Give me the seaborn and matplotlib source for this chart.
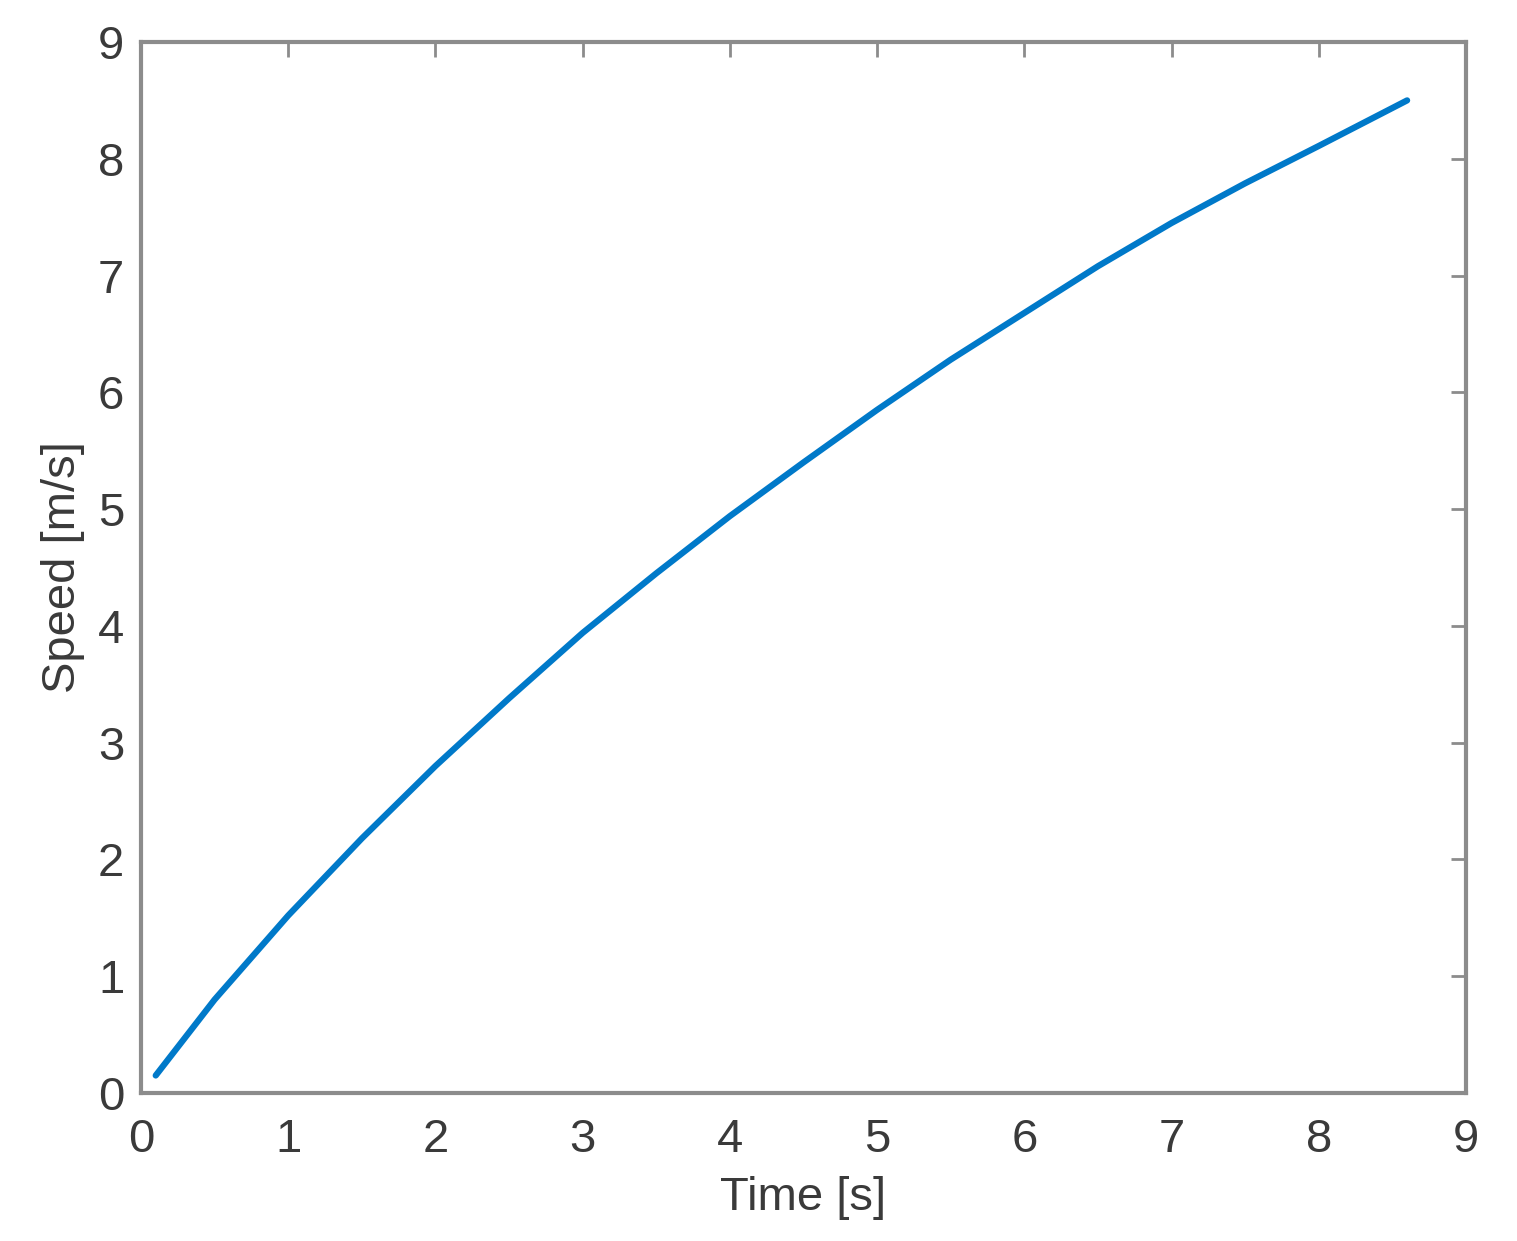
import numpy as np
import pandas as pd
import seaborn as sns
import matplotlib.pyplot as plt

# speed curve
time_s = [0.1, 0.5, 1.0, 1.5, 2.0, 2.5, 3.0, 3.5, 4.0, 4.5, 5.0, 5.5, 6.0, 6.5, 7.0, 7.5, 8.0, 8.6]
speed = [0.15, 0.80, 1.52, 2.18, 2.80, 3.38, 3.94, 4.45, 4.94, 5.40, 5.85, 6.28, 6.68, 7.08, 7.45, 7.79, 8.11, 8.50]
ticks = list(range(10))

df = pd.DataFrame({'time': time_s, 'speed': speed})

sns.set_theme(style='white')
plt.rcParams['font.family'] = ['Liberation Sans', 'DejaVu Sans']

axis_col = '#8c8c8c'
text_col = '#3a3a3a'

fig = plt.figure(figsize=(15.17, 12.41), dpi=100)
ax = fig.add_axes([141 / 1517, 1 - 1093 / 1241, (1466 - 141) / 1517, (1093 - 42) / 1241])

sns.lineplot(data=df, x='time', y='speed', ax=ax, color='#0079C9', linewidth=4.5)

ax.set_xlim(0, 9)
ax.set_ylim(0, 9)
ax.set_xticks(ticks)
ax.set_yticks(ticks)
ax.set_xlabel('Time [s]', fontsize=34, color=text_col, labelpad=10)
ax.set_ylabel('Speed [m/s]', fontsize=34, color=text_col, labelpad=9)

for sp in ax.spines.values():
    sp.set_visible(True)
    sp.set_color(axis_col)
    sp.set_linewidth(3)

ax.tick_params(axis='both', direction='in', length=11, width=2, colors=axis_col,
               labelcolor=text_col, labelsize=34, top=True, right=True)
ax.tick_params(axis='x', pad=18)
ax.tick_params(axis='y', pad=12)

plt.savefig('out.png', dpi=100)
